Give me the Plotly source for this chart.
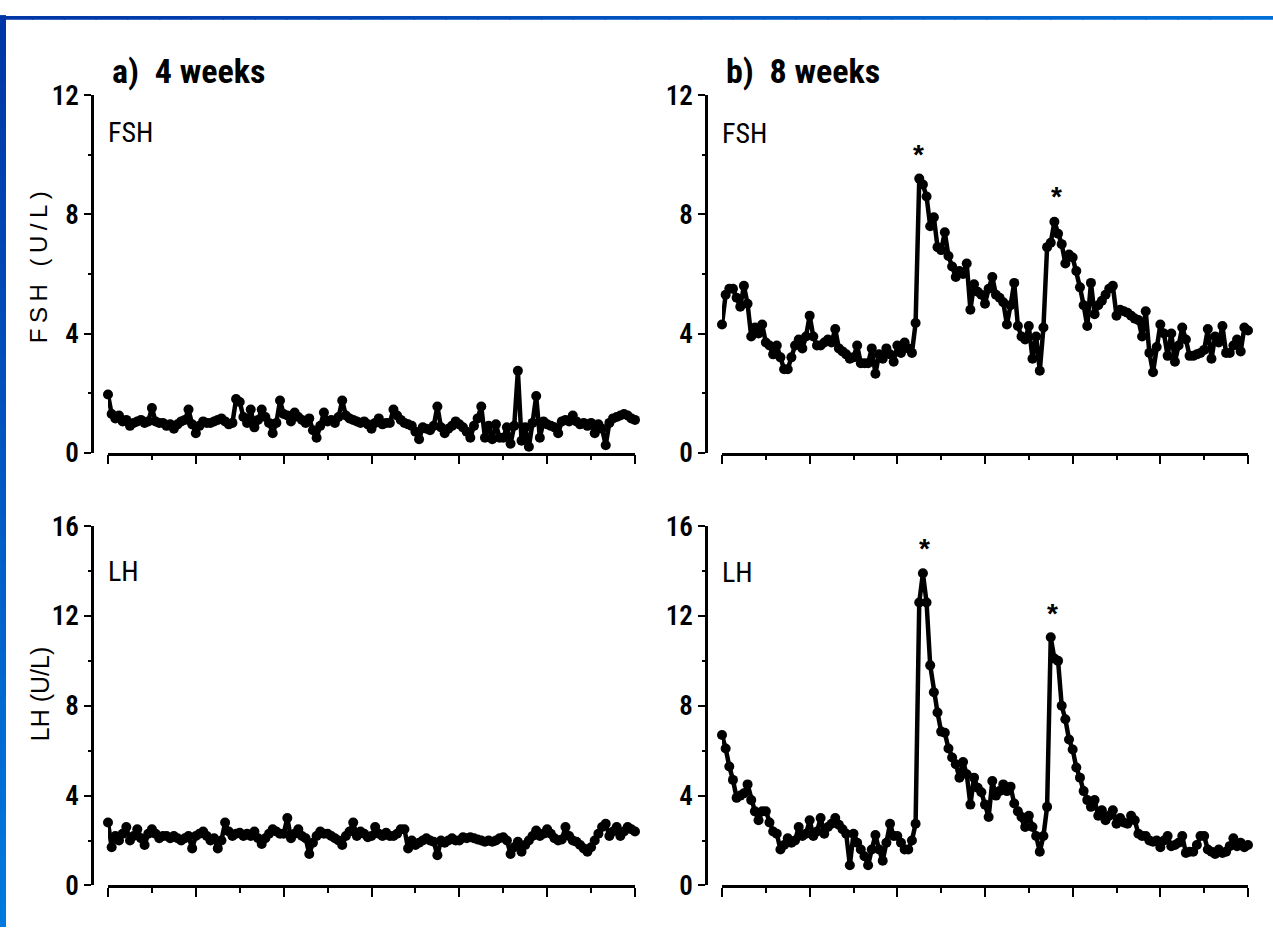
import plotly.graph_objects as go

# ---------------- data (10-min sampling over 24 h) ----------------
sample_minutes = list(range(0, 24 * 60 + 1, 10))
hours = [m / 60 for m in sample_minutes]

fsh_4wk = [
    1.95, 1.3, 1.15, 1.25, 1.05, 1.1,
    0.9, 1.0, 1.05, 1.1, 1.0, 1.05,
    1.5, 1.05, 1.0, 1.0, 0.9, 0.95,
    0.8, 0.95, 1.05, 1.1, 1.45, 0.95,
    0.65, 0.9, 1.05, 1.0, 1.0, 1.05,
    1.1, 1.15, 1.05, 0.95, 1.0, 1.8,
    1.7, 1.2, 1.0, 1.45, 0.85, 1.1,
    1.45, 1.2, 1.0, 0.65, 1.0, 1.75,
    1.3, 1.25, 1.05, 1.35, 1.2, 1.1,
    1.0, 1.15, 0.75, 0.5, 0.9, 1.35,
    1.05, 1.1, 1.0, 1.2, 1.75, 1.25,
    1.15, 1.1, 1.05, 1.0, 1.05, 0.95,
    0.8, 1.0, 1.15, 0.95, 1.0, 1.0,
    1.45, 1.25, 1.1, 1.0, 0.95, 0.9,
    0.7, 0.45, 0.85, 0.8, 0.75, 0.9,
    1.55, 0.85, 0.65, 0.8, 0.9, 1.05,
    0.95, 0.85, 0.7, 0.5, 0.9, 1.15,
    1.55, 0.5, 0.9, 0.45, 0.95, 0.5,
    0.5, 0.85, 0.3, 0.9, 2.75, 0.4,
    0.85, 0.2, 1.0, 1.9, 0.5, 1.05,
    0.95, 0.9, 0.85, 0.65, 1.05, 1.1,
    1.05, 1.25, 1.05, 0.95, 1.0, 0.9,
    1.0, 0.65, 0.95, 0.8, 0.25, 1.0,
    1.15, 1.2, 1.25, 1.3, 1.25, 1.15, 1.1,
]

lh_4wk = [
    2.8, 1.7, 2.2, 2.0, 2.3, 2.6,
    2.0, 2.2, 2.5, 2.1, 1.8, 2.3,
    2.5, 2.3, 2.1, 2.2, 2.2, 2.1,
    2.2, 2.1, 2.0, 2.1, 2.2, 1.65,
    2.2, 2.3, 2.4, 2.2, 2.0, 2.1,
    1.65, 2.0, 2.8, 2.4, 2.2, 2.3,
    2.35, 2.2, 2.3, 2.2, 2.4, 2.1,
    1.85, 2.1, 2.3, 2.5, 2.4, 2.3,
    2.3, 3.0, 2.1, 2.3, 2.5, 2.2,
    2.1, 1.4, 1.9, 2.2, 2.4, 2.3,
    2.3, 2.2, 2.1, 2.0, 1.8, 2.2,
    2.4, 2.8, 2.2, 2.4, 2.3, 2.15,
    2.2, 2.6, 2.3, 2.2, 2.35, 2.2,
    2.2, 2.3, 2.5, 2.5, 1.65, 2.0,
    1.8, 1.9, 2.0, 2.1, 2.0, 1.95,
    1.35, 2.0, 1.9, 2.0, 2.1, 2.0,
    2.0, 2.15, 2.1, 2.15, 2.1, 2.05,
    2.0, 1.95, 2.0, 1.95, 2.0, 2.1,
    2.15, 2.0, 1.4, 1.7, 1.95, 1.5,
    1.8, 2.0, 2.2, 2.45, 2.2, 2.3,
    2.5, 2.3, 2.1, 2.0, 2.05, 2.6,
    2.2, 2.0, 1.95, 1.8, 1.65, 1.5,
    1.7, 2.0, 2.3, 2.6, 2.75, 2.2,
    2.4, 2.6, 2.2, 2.4, 2.6, 2.5, 2.4,
]

fsh_8wk = [
    4.3, 5.3, 5.5, 5.5, 5.2, 4.9,
    5.6, 5.0, 3.9, 4.2, 4.0, 4.3,
    3.7, 3.6, 3.3, 3.6, 3.2, 2.8,
    2.8, 3.2, 3.6, 3.8, 3.5, 3.9,
    4.6, 3.9, 3.6, 3.6, 3.7, 3.8,
    3.7, 4.15, 3.5, 3.4, 3.3, 3.15,
    3.2, 3.6, 3.0, 3.0, 3.0, 3.5,
    2.65, 3.3, 3.15, 3.5, 3.3, 3.05,
    3.6, 3.35, 3.7, 3.5, 3.35, 4.35,
    9.2, 9.0, 8.6, 7.6, 7.9, 6.9,
    6.8, 7.4, 6.6, 6.25, 5.9, 6.1,
    6.0, 6.35, 4.8, 5.65, 5.4, 5.3,
    5.0, 5.5, 5.9, 5.3, 5.2, 5.05,
    4.3, 4.95, 5.7, 4.25, 3.9, 3.8,
    4.25, 3.15, 3.9, 2.75, 4.2, 6.9,
    7.05, 7.75, 7.35, 7.0, 6.35, 6.65,
    6.55, 6.1, 5.55, 4.95, 4.25, 5.7,
    4.65, 4.95, 5.1, 5.3, 5.5, 5.6,
    4.6, 4.8, 4.75, 4.7, 4.6, 4.5,
    4.45, 3.9, 4.75, 3.35, 2.7, 3.55,
    4.3, 4.0, 3.25, 4.0, 3.05, 3.6,
    4.2, 3.8, 3.25, 3.25, 3.3, 3.35,
    3.45, 4.15, 3.15, 3.9, 3.7, 4.25,
    3.35, 3.35, 3.6, 3.8, 3.4, 4.2, 4.1,
]

lh_8wk = [
    6.7, 6.1, 5.3, 4.7, 3.9, 4.0,
    4.1, 4.5, 3.8, 3.3, 2.9, 3.3,
    3.3, 2.8, 2.4, 2.3, 1.6, 1.8,
    2.1, 1.9, 2.0, 2.6, 2.2, 2.3,
    2.9, 2.2, 2.4, 3.0, 2.3, 2.6,
    2.75, 3.0, 2.7, 2.5, 2.3, 0.9,
    2.3, 1.9, 1.6, 1.3, 0.9, 1.6,
    2.25, 1.6, 1.1, 1.9, 2.75, 2.2,
    2.2, 1.9, 1.6, 1.6, 2.0, 2.75,
    12.6, 13.9, 12.6, 9.8, 8.6, 7.7,
    6.85, 6.8, 6.1, 5.7, 5.4, 4.8,
    5.5, 4.95, 3.6, 4.8, 4.35, 4.15,
    3.6, 3.05, 4.65, 4.0, 4.2, 4.5,
    4.2, 4.4, 3.65, 3.3, 3.05, 2.6,
    3.1, 2.6, 2.2, 1.5, 2.2, 3.5,
    11.05, 10.1, 10.0, 8.0, 7.4, 6.5,
    6.05, 5.25, 4.8, 4.2, 3.8, 3.5,
    3.8, 3.1, 3.35, 2.9, 3.1, 3.35,
    2.75, 3.0, 2.8, 2.75, 3.1, 2.9,
    2.3, 2.2, 2.2, 2.0, 1.95, 2.0,
    1.7, 2.0, 2.2, 1.75, 1.8, 1.9,
    2.2, 1.45, 1.5, 1.5, 1.8, 2.2,
    2.2, 1.6, 1.5, 1.4, 1.6, 1.45,
    1.5, 1.75, 2.1, 1.75, 1.9, 1.7, 1.8,
]

# significant-pulse markers (hour, value)
fsh_star_hours = [8.97, 15.25]
fsh_star_values = [10.0, 8.6]
lh_star_hours = [9.22, 15.1]
lh_star_values = [15.0, 12.1]

panel_titles = ["a)  4 weeks", "b)  8 weeks"]
fsh_ticks = [0, 4, 8, 12]
lh_ticks = [0, 4, 8, 12, 16]

# ---------------- layout helpers ----------------
W, H = 1273, 943
NARROW = "Noto Sans Condensed, Roboto Condensed, Liberation Sans Narrow, Noto Sans, Roboto, sans-serif"
PLAIN = "Liberation Sans, Arial, sans-serif"
STRETCH = "font-stretch:condensed"


def cond(t):
    return '<span style="%s">%s</span>' % (STRETCH, t)


def fx(p):
    return p / W


def fy(p):
    return 1 - p / H


fig = go.Figure()

panels = [
    ("x", "y", fsh_4wk, (108, 635), (452, 82), 92, fsh_ticks),
    ("x2", "y2", fsh_8wk, (722, 1248), (452, 82), 706, fsh_ticks),
    ("x3", "y3", lh_4wk, (108, 635), (900, 528), 92, lh_ticks),
    ("x4", "y4", lh_8wk, (722, 1248), (900, 528), 706, lh_ticks),
]

layout_axes = {}
for xa, ya, vals, xd, yd, ypos, tv in panels:
    fig.add_trace(go.Scatter(
        x=hours[:len(vals)], y=vals, xaxis=xa, yaxis=ya,
        mode="lines+markers",
        line=dict(color="black", width=4.5),
        marker=dict(color="black", size=10),
        cliponaxis=False, hoverinfo="skip", showlegend=False,
    ))
    xkey = "xaxis" + xa[1:]
    ykey = "yaxis" + ya[1:]
    layout_axes[xkey] = dict(
        domain=[fx(xd[0]), fx(xd[1])], anchor=ya, range=[0, 24],
        showline=True, linecolor="black", linewidth=2.5,
        ticks="outside", ticklen=9, tickwidth=2, tickcolor="black",
        tick0=0, dtick=4, showticklabels=False,
        minor=dict(ticks="outside", ticklen=5, tickwidth=2, tickcolor="black", dtick=2, tick0=0),
        showgrid=False, zeroline=False, fixedrange=True,
    )
    layout_axes[ykey] = dict(
        domain=[fy(yd[0]), fy(yd[1])], anchor="free", position=fx(ypos),
        range=[tv[0], tv[-1]],
        showline=True, linecolor="black", linewidth=2.5,
        ticks="outside", ticklen=7, tickwidth=2, tickcolor="black",
        tickmode="array", tickvals=tv, ticktext=[cond(str(v)) for v in tv],
        minor=dict(ticks="outside", ticklen=3, tickwidth=2, tickcolor="black", dtick=2, tick0=0),
        tickfont=dict(family=NARROW, size=27, color="black", weight=600),
        showgrid=False, zeroline=False, fixedrange=True,
    )

annotations = []
for txt, xp in zip(panel_titles, [110, 724]):
    annotations.append(dict(
        text="<b>" + cond(txt) + "</b>", x=fx(xp), y=fy(57), xref="paper", yref="paper",
        xanchor="left", yanchor="middle", showarrow=False,
        font=dict(family=NARROW, size=34, color="black"),
    ))
for txt, xp, yp in [("FSH", 106, 121), ("FSH", 720, 122), ("LH", 106, 575), ("LH", 720, 576)]:
    annotations.append(dict(
        text=cond(txt), x=fx(xp), y=fy(yp), xref="paper", yref="paper",
        xanchor="left", yanchor="middle", showarrow=False,
        font=dict(family=NARROW, size=28, color="black"),
    ))
annotations.append(dict(
    text='<span style="letter-spacing:5.5px">FSH (U/L)</span>', x=fx(38), y=fy(257),
    xref="paper", yref="paper", xanchor="center", yanchor="middle", textangle=-90,
    showarrow=False, font=dict(family=PLAIN, size=24, color="black"),
))
annotations.append(dict(
    text="LH (U/L)", x=fx(40), y=fy(702),
    xref="paper", yref="paper", xanchor="center", yanchor="middle", textangle=-90,
    showarrow=False, font=dict(family=PLAIN, size=25, color="black"),
))
for hx, vy in zip(fsh_star_hours, fsh_star_values):
    annotations.append(dict(text="<b>*</b>", x=hx, y=vy, xref="x2", yref="y2",
                            showarrow=False, yanchor="middle",
                            font=dict(family=PLAIN, size=28, color="black")))
for hx, vy in zip(lh_star_hours, lh_star_values):
    annotations.append(dict(text="<b>*</b>", x=hx, y=vy, xref="x4", yref="y4",
                            showarrow=False, yanchor="middle",
                            font=dict(family=PLAIN, size=28, color="black")))

shapes = []
N = 40


def mix(c1, c2, t):
    return "rgb(%d,%d,%d)" % tuple(round(a + (b - a) * t) for a, b in zip(c1, c2))


dark, light_l, light_t = (0, 54, 165), (0, 121, 222), (0, 112, 216)
for i in range(N):
    t = i / (N - 1)
    shapes.append(dict(type="rect", xref="paper", yref="paper",
                       x0=0, x1=fx(6), y0=1 - (i + 1) / N, y1=1 - i / N + 0.001,
                       fillcolor=mix(dark, light_l, t), line=dict(width=0), layer="above"))
    shapes.append(dict(type="rect", xref="paper", yref="paper",
                       x0=i / N, x1=(i + 1) / N + 0.001, y0=fy(4), y1=1,
                       fillcolor=mix(dark, light_t, t), line=dict(width=0), layer="above"))

fig.update_layout(
    width=W, height=H, margin=dict(l=0, r=0, t=0, b=0),
    paper_bgcolor="white", plot_bgcolor="white",
    showlegend=False, annotations=annotations, shapes=shapes,
    **layout_axes,
)

fig.write_html("out.html")
